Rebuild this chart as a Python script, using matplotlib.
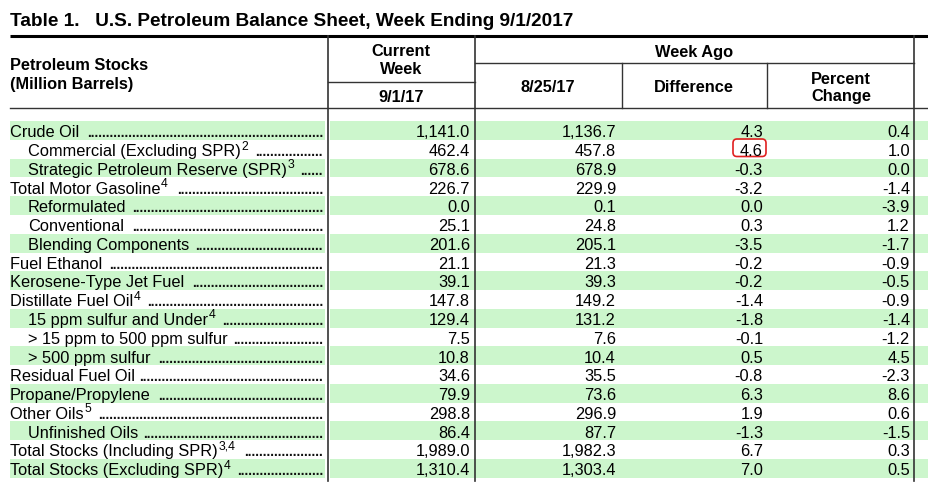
import matplotlib
matplotlib.use("Agg")
import matplotlib.pyplot as plt
from matplotlib.patches import FancyBboxPatch

plt.rcParams['font.family'] = ['Liberation Sans', 'DejaVu Sans']

title = "Table 1.   U.S. Petroleum Balance Sheet, Week Ending 9/1/2017"

labels = ["Crude Oil", "Commercial (Excluding SPR)", "Strategic Petroleum Reserve (SPR)",
          "Total Motor Gasoline", "Reformulated", "Conventional", "Blending Components",
          "Fuel Ethanol", "Kerosene-Type Jet Fuel", "Distillate Fuel Oil",
          "15 ppm sulfur and Under", "> 15 ppm to 500 ppm sulfur", "> 500 ppm sulfur",
          "Residual Fuel Oil", "Propane/Propylene", "Other Oils", "Unfinished Oils",
          "Total Stocks (Including SPR)", "Total Stocks (Excluding SPR)"]
indent = [0, 1, 1, 0, 1, 1, 1, 0, 0, 0, 1, 1, 1, 0, 0, 0, 1, 0, 0]
notes = ["", "2", "3", "4", "", "", "", "", "", "4", "4", "", "", "", "", "5", "", "3,4", "4"]

current = [1141.0, 462.4, 678.6, 226.7, 0.0, 25.1, 201.6, 21.1, 39.1, 147.8,
           129.4, 7.5, 10.8, 34.6, 79.9, 298.8, 86.4, 1989.0, 1310.4]
week_ago = [1136.7, 457.8, 678.9, 229.9, 0.1, 24.8, 205.1, 21.3, 39.3, 149.2,
            131.2, 7.6, 10.4, 35.5, 73.6, 296.9, 87.7, 1982.3, 1303.4]
difference = [4.3, 4.6, -0.3, -3.2, 0.0, 0.3, -3.5, -0.2, -0.2, -1.4,
              -1.8, -0.1, 0.5, -0.8, 6.3, 1.9, -1.3, 6.7, 7.0]
pct_change = [0.4, 1.0, 0.0, -1.4, -3.9, 1.2, -1.7, -0.9, -0.5, -0.9,
              -1.4, -1.2, 4.5, -2.3, 8.6, 0.6, -1.5, 0.3, 0.5]

W, H = 929, 489
fig = plt.figure(figsize=(W / 100, H / 100), dpi=100)
ax = fig.add_axes([0, 0, 1, 1])
ax.set_xlim(0, W)
ax.set_ylim(H, 0)
ax.axis('off')

green = '#ccf6cc'
line_c = '#333333'
fs = 11.8
row0, step = 131.5, 18.77
num_right = [470, 616, 763, 910]
base_off = 5.8  # baseline below row centre

# stripes
for i in range(len(labels)):
    if i % 2 == 0:
        y = row0 + i * step
        ax.add_patch(plt.Rectangle((10, y - step / 2), 315, step, color=green, lw=0))
        ax.add_patch(plt.Rectangle((330, y - step / 2), W - 330, step, color=green, lw=0))

# title and rules
ax.text(10, 22, title, fontsize=13.7, fontweight='bold', va='center', ha='left')
ax.plot([10, W], [36.5, 36.5], color='black', lw=2.2, solid_capstyle='butt')
ax.plot([10, W], [109, 109], color=line_c, lw=1.0)
ax.plot([328, 475], [82.5, 82.5], color=line_c, lw=1.0)
ax.plot([475, 914], [63.5, 63.5], color=line_c, lw=1.0)
for x in [328, 475, 914]:
    ax.plot([x, x], [37, 482], color=line_c, lw=1.2)
for x in [622, 767]:
    ax.plot([x, x], [63.5, 109], color=line_c, lw=1.0)

# headers
hkw = dict(fontsize=11.8, fontweight='bold', va='center')
ax.text(10, 65.5, "Petroleum Stocks", ha='left', **hkw)
ax.text(10, 84, "(Million Barrels)", ha='left', **hkw)
ax.text(401, 52, "Current", ha='center', **hkw)
ax.text(401, 70, "Week", ha='center', **hkw)
ax.text(401, 97, "9/1/17", ha='center', **hkw)
ax.text(694, 52, "Week Ago", ha='center', **hkw)
ax.text(548, 88, "8/25/17", ha='center', **hkw)
ax.text(694, 88, "Difference", ha='center', **hkw)
ax.text(841, 79, "Percent", ha='center', **hkw)
ax.text(841, 97, "Change", ha='center', **hkw)

renderer = fig.canvas.get_renderer()
inv = ax.transData.inverted()


def right_x(t):
    bb = t.get_window_extent(renderer)
    return inv.transform((bb.x1, bb.y0))[0]


dot_fs = 9.8
dot_probe = ax.text(0, 0, "." * 40, fontsize=dot_fs, fontweight='bold')
dot_w = right_x(dot_probe) / 40
dot_probe.remove()

for i, lab in enumerate(labels):
    y = row0 + i * step
    yb = y + base_off
    x0 = 10 + 18 * indent[i]
    t = ax.text(x0, yb, lab, fontsize=fs, va='baseline', ha='left')
    end = right_x(t)
    if notes[i]:
        s = ax.text(end + 0.5, yb - 6.5, notes[i], fontsize=8.8, va='baseline', ha='left')
        end = right_x(s) + 2
    n = int((323 - end - 4) / dot_w)
    ax.text(323, yb, "." * max(n, 0), fontsize=dot_fs, fontweight='bold',
            color='#111111', va='baseline', ha='right')
    vals = [f"{current[i]:,.1f}", f"{week_ago[i]:,.1f}",
            f"{difference[i]:.1f}", f"{pct_change[i]:.1f}"]
    for xr, v in zip(num_right, vals):
        ax.text(xr, yb, v, fontsize=fs, va='baseline', ha='right')

# red hand-drawn mark around the commercial difference
ax.add_patch(FancyBboxPatch((733, 140), 33, 17.5, boxstyle="round,pad=0,rounding_size=4",
                            fill=False, ec='#e02020', lw=1.2))

fig.savefig("out.png", dpi=100)
